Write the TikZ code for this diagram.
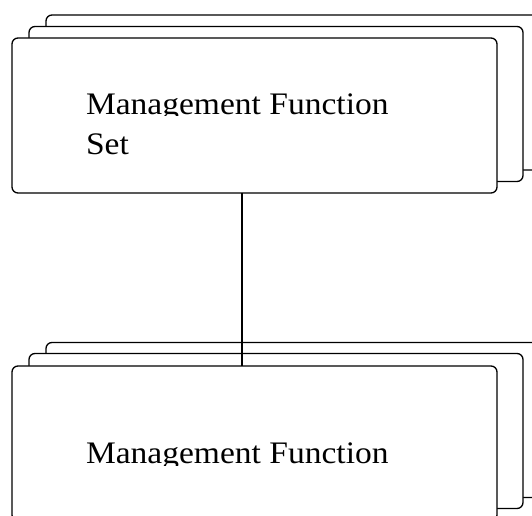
\documentclass[tikz,border=0pt]{standalone}
\usepackage{fontspec}
\setmainfont{Liberation Serif}
\usepackage{tikz}

\begin{document}
\begin{tikzpicture}[x=0.75pt, y=-0.75pt,
  every node/.style={inner sep=0pt, outer sep=0pt},
  card/.style={draw, fill=white, line width=1pt, rounded corners=4.5pt, minimum height=116.25pt},
  front/.style={card, minimum width=363.75pt},
  behind/.style={card, minimum width=370.5pt},
  cardtext/.style={anchor=base west, font=\fontsize{23.5}{28}\selectfont}]
\useasboundingbox (0,0) rectangle (532,516);
\clip (0,0) rectangle (532,516);

\node[behind] (mfsback) at (293,92.5) {};
\node[behind] (mfsmid) at (276,104) {};
\node[front] (mfs) at (254.5,115.5) {};
\begin{scope}
\clip (12,38) rectangle (497,116);
\node[cardtext] (mfsline) at (86,114.8) {\scalebox{1.07}[1]{Management Function}};
\end{scope}
\node[cardtext] (mfsset) at (86,154.8) {\scalebox{1.07}[1]{Set}};

\node[behind] (mfback) at (293,420) {};
\node[behind] (mfmid) at (276,431) {};
\node[front] (mf) at (254.5,443.5) {};
\begin{scope}
\clip (12,366) rectangle (497,465.2);
\node[cardtext] (mfline) at (86,464) {\scalebox{1.07}[1]{Management Function}};
\end{scope}

\draw[line width=1pt] ([xshift=-9.375pt]mfs.south) -- ([xshift=-9.375pt]mf.north);
\end{tikzpicture}
\end{document}
